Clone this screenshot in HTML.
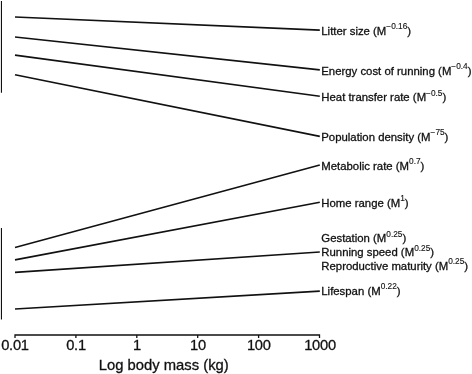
<!DOCTYPE html>
<html><head><meta charset="utf-8">
<style>
html,body{margin:0;padding:0;background:#fff;}
svg{display:block;}
text{font-family:"Liberation Sans",Arial,Helvetica,sans-serif;fill:#111;stroke:#111;stroke-width:0.3px;font-kerning:none;}
.l{font-size:11.36px;}
.s{font-size:8.3px;stroke-width:0.12px;}
.t{font-size:14.7px;text-anchor:middle;letter-spacing:-0.25px;}
.a{font-size:14.8px;}
</style></head><body>
<svg width="472" height="374" viewBox="0 0 472 374" xmlns="http://www.w3.org/2000/svg">
<rect width="472" height="374" fill="#fff"/>
<g stroke="#111" stroke-width="1.1" fill="none">
<line x1="1.45" y1="0.9" x2="1.45" y2="92.7"/>
<line x1="1.45" y1="228" x2="1.45" y2="319.6"/>
</g>
<g stroke="#111" stroke-width="1.6" fill="none">
<line x1="15" y1="17" x2="319.8" y2="30.1"/>
<line x1="15" y1="37" x2="319.8" y2="69.9"/>
<line x1="15" y1="55.1" x2="319.8" y2="96.2"/>
<line x1="15" y1="74.8" x2="319.8" y2="136.4"/>
<line x1="15" y1="247.6" x2="319.8" y2="165.0"/>
<line x1="15" y1="259.85" x2="319.8" y2="202.2"/>
<line x1="15" y1="272.35" x2="319.8" y2="252.0"/>
<line x1="15" y1="309" x2="319.8" y2="291.1"/>
</g>
<g stroke="#111" stroke-width="1.3" fill="none">
<path d="M15 338V335H319.5V338M75.9 335V338M136.8 335V338M197.7 335V338M258.6 335V338"/>
</g>
<g class="t">
<text x="15" y="350.2">0.01</text>
<text x="76" y="350.2">0.1</text>
<text x="137" y="350.2">1</text>
<text x="198" y="350.2">10</text>
<text x="258.8" y="350.2">100</text>
<text x="320" y="350.2">1000</text>
</g>
<text class="a" x="98.8" y="369.5">Log body mass (kg)</text>
<g class="l">
<text x="321.3" y="34.6">Litter size (M<tspan class="s" dy="-5.7">−0.16</tspan><tspan dy="5.7">)</tspan></text>
<text x="321.3" y="74.6">Energy cost of running (M<tspan class="s" dy="-5.7">−0.4</tspan><tspan dy="5.7">)</tspan></text>
<text x="321.3" y="101.2">Heat transfer rate (M<tspan class="s" dy="-5.7">−0.5</tspan><tspan dy="5.7">)</tspan></text>
<text x="321.3" y="141.0">Population density (M<tspan class="s" dy="-5.7">−75</tspan><tspan dy="5.7">)</tspan></text>
<text x="321.3" y="169.8">Metabolic rate (M<tspan class="s" dy="-5.7">0.7</tspan><tspan dy="5.7">)</tspan></text>
<text x="321.3" y="206.6">Home range (M<tspan class="s" dy="-5.7">1</tspan><tspan dy="5.7">)</tspan></text>
<text x="321.3" y="242.4">Gestation (M<tspan class="s" dy="-5.7">0.25</tspan><tspan dy="5.7">)</tspan></text>
<text x="321.3" y="256.2">Running speed (M<tspan class="s" dy="-5.7">0.25</tspan><tspan dy="5.7">)</tspan></text>
<text x="321.3" y="269.8">Reproductive maturity (M<tspan class="s" dy="-5.7">0.25</tspan><tspan dy="5.7">)</tspan></text>
<text x="321.3" y="295.1">Lifespan (M<tspan class="s" dy="-5.7">0.22</tspan><tspan dy="5.7">)</tspan></text>
</g>
</svg>
</body></html>
